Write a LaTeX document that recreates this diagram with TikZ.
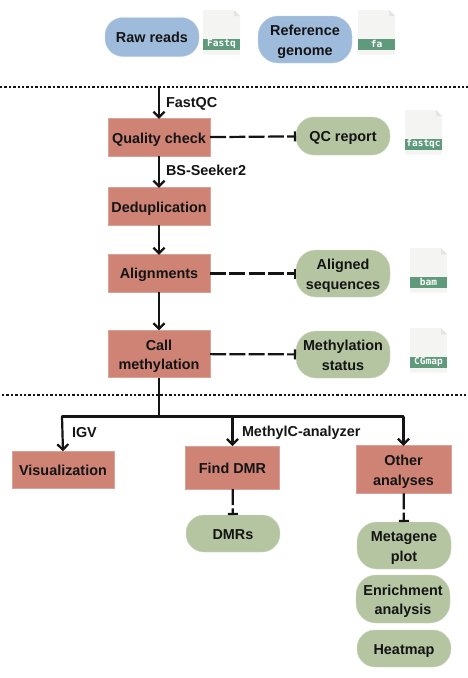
\documentclass[tikz,border=0pt]{standalone}
\usepackage{fontspec}
\setmainfont{Liberation Sans}
\newfontfamily\iconfont{DejaVu Sans Mono}
\usepackage{amsmath,amssymb}
\usetikzlibrary{calc,arrows.meta}

\definecolor{stepred}{HTML}{CE8375}
\definecolor{inblue}{HTML}{9FBBDC}
\definecolor{outgreen}{HTML}{B5C4A1}
\definecolor{filepage}{HTML}{F4F4F2}
\definecolor{filefold}{HTML}{E4E4E2}
\definecolor{fileband}{HTML}{5F9A7C}
\definecolor{inktext}{HTML}{141414}

\tikzset{
    label text/.style={font=\bfseries\fontsize{14.4}{19.5}\selectfont, text=inktext, align=center, inner sep=0pt, outer sep=0pt,
        execute at begin node={\rule{0pt}{14pt}}, execute at end node={\rule[-3pt]{0pt}{0pt}}},
    stepbox/.style={label text, fill=stepred, draw=stepred!75!white, line width=0.6pt, minimum height=37.5pt},
    pillbox/.style={label text, minimum width=94pt, rounded corners=18pt, draw=white!60!outgreen, line width=0.4pt},
    inpill/.style={pillbox, fill=inblue, draw=inblue!70!white},
    outpill/.style={pillbox, fill=outgreen, draw=outgreen!70!white},
    tool text/.style={label text, anchor=west},
    flow/.style={line width=2.2pt, inktext, -{Straight Barb[length=5.5pt,width=11pt,line width=2.2pt]}},
    trunk/.style={line width=2.2pt, inktext},
    result/.style={line width=2.2pt, inktext, dash pattern=on 16pt off 3.3pt, -{Bar[width=10pt,line width=2.2pt]}},
    divider/.style={line width=2.2pt, inktext, dash pattern=on 2.4pt off 2pt},
}

% two lines of a label, set a little lower
\newcommand{\twolines}[2]{\raisebox{-7.5pt}[0pt][0pt]{#1}\\\raisebox{-7.5pt}[0pt][0pt]{#2}}

% one file icon: top left corner, label
\newcommand{\fileicon}[4]{%
    \fill[filepage] (#1,#2) -- ++(31,0) -- ++(6,6) -- ++(0,38.5) -- ++(-37,0) -- cycle;
    \fill[filefold] (#1+31,#2) -- ++(6,6) -- ++(-6,0) -- cycle;
    \fill[fileband] (#1,#2+28.5) rectangle ++(37,11.5);
    \node[text=white, inner sep=0pt, font=\iconfont\bfseries\fontsize{9.5}{9.5}\selectfont] (#4) at (#1+18.5,#2+34) {#3};
}

\begin{document}
\begin{tikzpicture}[x=1pt, y=-1pt]
    \useasboundingbox (0,0) rectangle (468,678);

    % inputs
    \node[inpill, minimum height=39pt] (rawreads) at (152,37) {Raw reads};
    \node[inpill, minimum height=47pt, rounded corners=20pt] (refgenome) at (305,39.5) {\twolines{Reference}{genome}};
    \fileicon{203}{10}{Fastq}{iconfastq}
    \fileicon{358}{10}{fa}{iconfa}

    % dividers
    \coordinate (divtopl) at (0,87);
    \coordinate (divtopr) at (468,87);
    \coordinate (divlowl) at (2,395);
    \coordinate (divlowr) at (468,395);
    \draw[divider] (divtopl) -- (divtopr);
    \draw[divider] (divlowl) -- (divlowr);
    \coordinate (entry) at (159,87);

    % main steps
    \node[stepbox, minimum width=102pt] (quality) at (159,137.5) {Quality check};
    \node[stepbox, minimum width=102pt] (dedup) at (159,206.5) {Deduplication};
    \node[stepbox, minimum width=102pt] (align) at (159,273.5) {Alignments};
    \node[stepbox, minimum width=102pt, minimum height=47.5pt] (callmeth) at (159,354) {\twolines{Call}{methylation}};

    % outputs of the main steps
    \node[outpill, minimum height=38pt] (qcreport) at (343,136) {QC report};
    \node[outpill, minimum height=47pt, rounded corners=20pt] (alignseq) at (343,273.5) {\twolines{Aligned}{sequences}};
    \node[outpill, minimum height=47pt, rounded corners=20pt] (methstatus) at (343,354.5) {\twolines{Methylation}{status}};
    \fileicon{405}{110}{fastqc}{iconqc}
    \fileicon{410}{248}{bam}{iconbam}
    \fileicon{410}{328}{CGmap}{iconcg}

    % lower row
    \node[stepbox, minimum width=102pt] (visual) at (63,470) {Visualization};
    \node[stepbox, minimum width=94pt, minimum height=43pt] (finddmr) at (232.5,467.5) {Find DMR};
    \node[stepbox, minimum width=95pt, minimum height=47.5pt] (other) at (403.5,469.5) {\twolines{Other}{analyses}};
    \node[outpill, minimum height=37pt] (dmrs) at (233,533.5) {DMRs};
    \node[outpill, minimum height=47pt, rounded corners=20pt] (metagene) at (404,545.5) {\twolines{Metagene}{plot}};
    \node[outpill, minimum height=48pt, rounded corners=20pt] (enrich) at (403,599) {\twolines{Enrichment}{analysis}};
    \node[outpill, minimum height=37pt] (heatmap) at (404,648.5) {Heatmap};

    % connectors
    \draw[flow] (entry) -- (quality.north);
    \draw[flow] (quality) -- (dedup);
    \draw[flow] (dedup) -- (align);
    \draw[flow] (align) -- (callmeth);
    \draw[result] (quality) -- (qcreport);
    \draw[result] (align) -- (alignseq);
    \draw[result] (callmeth) -- (methstatus);

    \coordinate (split) at (159,416.5);
    \coordinate (splitl) at (62,416.5);
    \coordinate (splitm) at (232.5,416.5);
    \coordinate (splitr) at (403.5,416.5);
    \draw[trunk] (callmeth.south) -- (split);
    \draw[trunk, line cap=round] (splitl) -- (splitr);
    \draw[flow] (splitl) -- (visual.north);
    \draw[flow] (splitm) -- (finddmr.north);
    \draw[flow] (splitr) -- (other.north);
    \draw[result] (finddmr) -- (dmrs);
    \draw[result] (other) -- (metagene);

    % tools
    \node[tool text] (fastqc) at (166,101.5) {FastQC};
    \node[tool text] (bsseeker) at (166,170) {BS-Seeker2};
    \node[tool text] (igv) at (72,431.5) {IGV};
    \node[tool text] (methylc) at (242,430.5) {MethylC-analyzer};
\end{tikzpicture}
\end{document}
